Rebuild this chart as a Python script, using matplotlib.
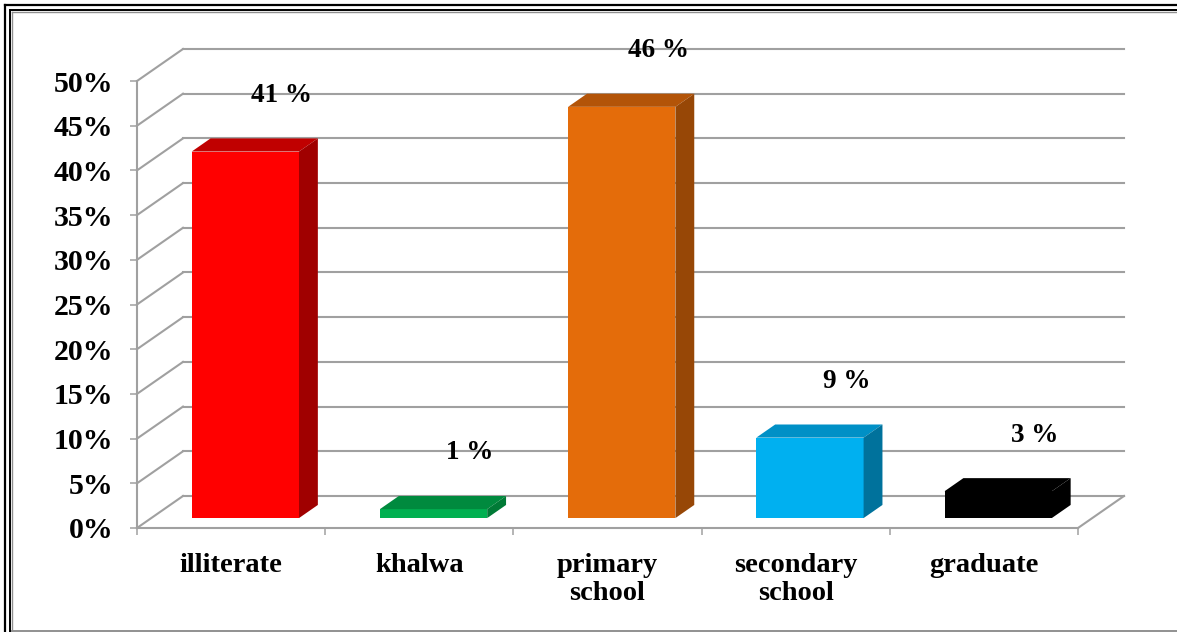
import numpy as np
import matplotlib
matplotlib.use('Agg')
import matplotlib.pyplot as plt
from matplotlib.patches import Polygon
from matplotlib.lines import Line2D

plt.rcParams['font.family'] = ['Liberation Serif', 'DejaVu Serif']
plt.rcParams['font.weight'] = 'bold'

# education level shares (%)
categories = ['illiterate', 'khalwa', 'primary\nschool', 'secondary\nschool', 'graduate']
values = [41, 1, 46, 9, 3]
labels = ['41 %', '1 %', '46 %', '9 %', '3 %']
front_colors = ['#ff0000', '#00b050', '#e46c0a', '#00b0f0', '#000000']
top_colors = ['#c00000', '#008a3e', '#b35408', '#0090c6', '#000000']
side_colors = ['#a00000', '#007a36', '#974706', '#00729c', '#000000']
yticks = np.arange(0, 55, 5)

W, H = 1177, 632
fig = plt.figure(figsize=(W / 100, H / 100), dpi=100)
ax = fig.add_axes([137 / W, (H - 528) / H, (1078 - 137) / W, (528 - 81) / H])
ax.set_xlim(0, 5)
ax.set_ylim(0, 50)

# depth of the 3d box (data units) and position of bars inside it
DX, DY = 0.2444, 3.58
d0, d1 = 0.31, 0.72
grid_c = '#a0a0a0'

# walls: back gridlines, side wall diagonals, floor edge
for y in yticks:
    ax.plot([DX, 5 + DX], [y + DY, y + DY], color=grid_c, lw=1.5, clip_on=False, zorder=1)
    ax.plot([0, DX], [y, y + DY], color=grid_c, lw=1.5, clip_on=False, zorder=1)
ax.plot([5, 5 + DX], [0, DY], color=grid_c, lw=1.5, clip_on=False, zorder=1)

x = np.arange(len(values)) + 0.5
bw = 0.57
fx = x + d0 * DX
fy = d0 * DY
ddx, ddy = (d1 - d0) * DX, (d1 - d0) * DY

ax.bar(fx, values, width=bw, bottom=fy, color=front_colors, zorder=3, clip_on=False)

for i, v in enumerate(values):
    l, r = fx[i] - bw / 2, fx[i] + bw / 2
    t = fy + v
    top = Polygon([(l, t), (r, t), (r + ddx, t + ddy), (l + ddx, t + ddy)],
                  closed=True, facecolor=top_colors[i], edgecolor='none', zorder=3, clip_on=False)
    side = Polygon([(r, fy), (r + ddx, fy + ddy), (r + ddx, t + ddy), (r, t)],
                   closed=True, facecolor=side_colors[i], edgecolor='none', zorder=3, clip_on=False)
    ax.add_patch(top)
    ax.add_patch(side)
    ax.text(x[i] + 0.27, v + 7.4, labels[i], ha='center', va='center',
            fontsize=19.5, fontweight='bold', zorder=4, clip_on=False)

for s in ['top', 'right']:
    ax.spines[s].set_visible(False)
for s in ['left', 'bottom']:
    ax.spines[s].set_color(grid_c)
    ax.spines[s].set_linewidth(1.5)
ax.set_facecolor('none')

ax.set_yticks(yticks)
ax.set_yticklabels([f'{t}%' for t in yticks], fontsize=21.5, fontweight='bold')
ax.set_xticks(np.arange(0, 6))
ax.set_xticklabels([])
ax.set_xticks(x, minor=True)
ax.set_xticklabels(categories, minor=True, fontsize=20.5, fontweight='bold', linespacing=1.15)
ax.tick_params(axis='y', direction='out', length=5, width=1.1, color=grid_c, pad=12)
ax.tick_params(axis='x', which='major', direction='out', length=5, width=1.1, color=grid_c)
ax.tick_params(axis='x', which='minor', length=0, pad=18)

# double frame on top/left, grey rule along the bottom
def fline(xs, ys, c, lw):
    fig.add_artist(Line2D([p / W for p in xs], [1 - p / H for p in ys], color=c, lw=lw))

fline([5, 5], [5, H], 'black', 1.6)
fline([5, W], [5, 5], 'black', 1.6)
fline([9.5, 9.5], [9.5, H], 'black', 1.4)
fline([9.5, W], [9.5, 9.5], 'black', 1.4)
fline([11.8, 11.8], [11.8, 630.5], '#909090', 1.0)
fline([11.8, W], [11.8, 11.8], '#909090', 1.0)
fline([11.8, W], [630.5, 630.5], '#909090', 1.4)

fig.savefig('out.png', dpi=100, facecolor='white')
